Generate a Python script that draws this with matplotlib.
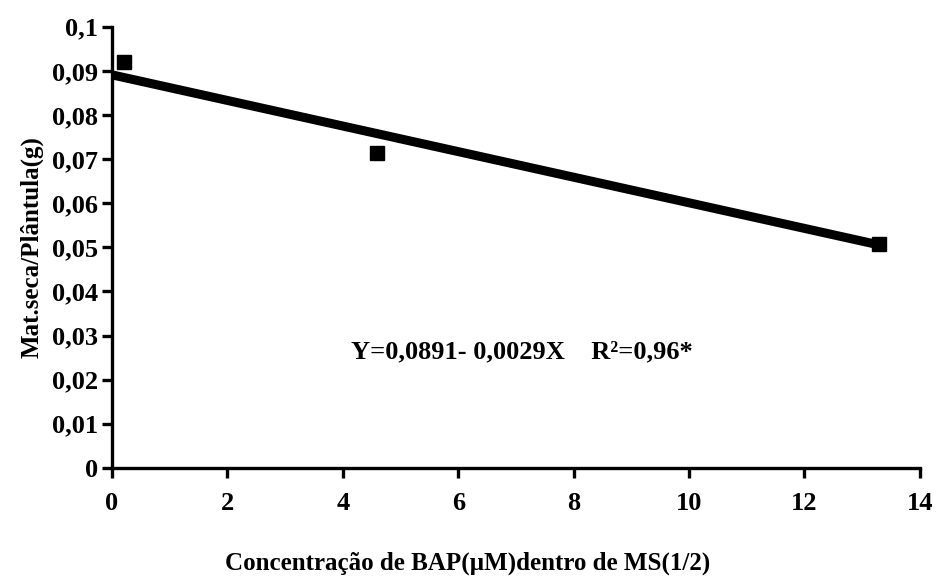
import numpy as np
import matplotlib.pyplot as plt

plt.rcParams['font.family'] = ['Liberation Serif', 'DejaVu Serif']
plt.rcParams['font.weight'] = 'bold'

# Dados observados
bap = [0.2, 4.6, 13.3]
massa = [0.092, 0.0714, 0.0507]

# Regressão linear: Y = 0,0891 - 0,0029X
a, b = 0.0891, -0.0029
x_reta = np.array([0, 13.3])
y_reta = a + b * x_reta

x_ticks = [0, 2, 4, 6, 8, 10, 12, 14]
y_ticks = [0, 0.01, 0.02, 0.03, 0.04, 0.05, 0.06, 0.07, 0.08, 0.09, 0.1]
y_labels = ['0', '0,01', '0,02', '0,03', '0,04', '0,05', '0,06', '0,07', '0,08', '0,09', '0,1']

fig = plt.figure(figsize=(9.36, 5.82), dpi=100)
ax = fig.add_axes([0.1197, 0.196, 0.863, 0.758])

ax.plot(x_reta, y_reta, color='black', linewidth=6.5, solid_capstyle='butt', zorder=2)
ax.plot(bap, massa, 's', color='black', markersize=10, zorder=3, clip_on=False)

ax.set_xlim(0, 14)
ax.set_ylim(0, 0.1)
ax.set_xticks(x_ticks)
ax.set_xticklabels([str(t) for t in x_ticks])
ax.set_yticks(y_ticks)
ax.set_yticklabels(y_labels)

for s in ['top', 'right']:
    ax.spines[s].set_visible(False)
for s in ['left', 'bottom']:
    ax.spines[s].set_linewidth(2.4)

ax.tick_params(axis='both', labelsize=19, width=2.4, length=7, pad=3)
ax.tick_params(axis='x', pad=10)

ax.set_ylabel('Mat.seca/Plântula(g)', fontsize=18, fontweight='bold', labelpad=6)
ax.set_xlabel('Concentração de BAP(µM)dentro de MS(1/2)', fontsize=18, fontweight='bold')
ax.xaxis.set_label_coords(0.44, -0.19)

ax.text(7.1, 0.0263, 'Y=0,0891- 0,0029X    R²=0,96*', fontsize=19,
        fontweight='bold', ha='center', va='center')

plt.savefig('out.png', dpi=100)
